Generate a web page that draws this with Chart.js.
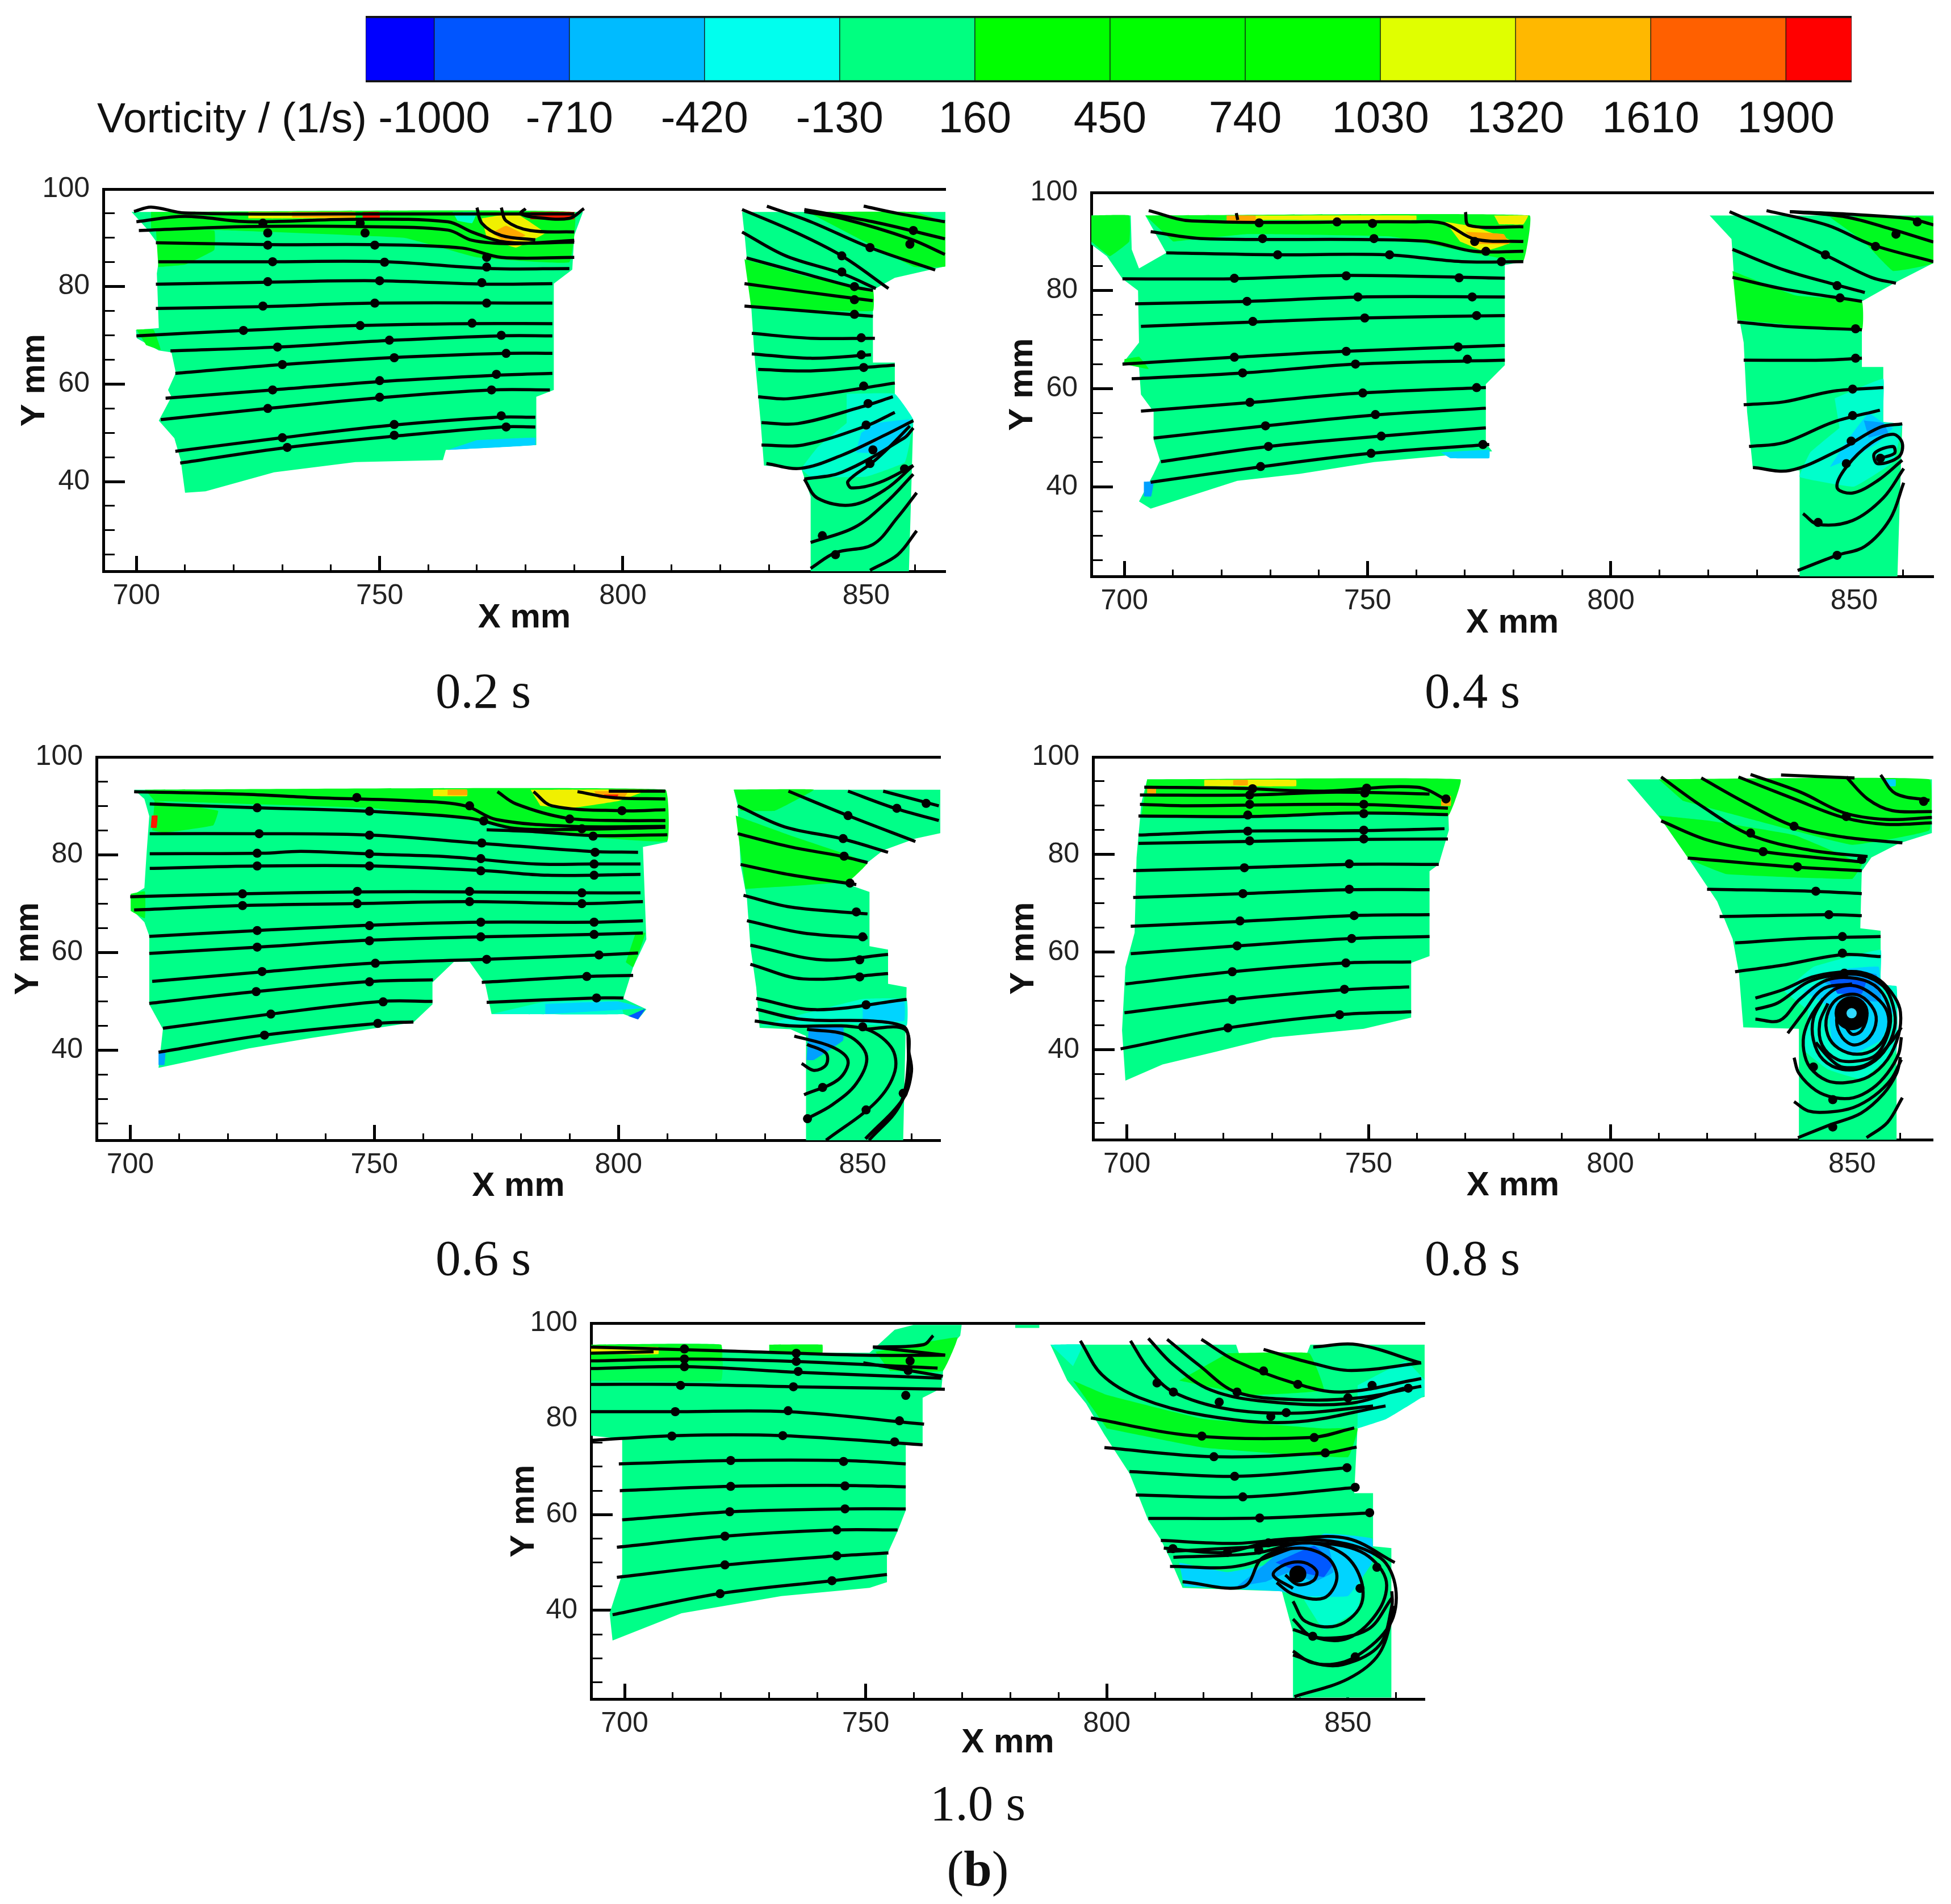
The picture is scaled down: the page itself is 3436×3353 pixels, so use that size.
<!DOCTYPE html>
<html><head><meta charset="utf-8">
<style>
html,body{margin:0;padding:0;background:#fff;width:3436px;height:3353px;overflow:hidden}
canvas{position:absolute}
.cap{position:absolute;transform:translate(-50%,-50%);font-family:"Liberation Serif",serif;font-size:89px;color:#111;white-space:nowrap}
.lab{position:absolute;transform:translateY(-50%);font-family:"Liberation Sans",sans-serif;font-size:75px;color:#111;white-space:nowrap}
</style>
<script src="https://cdn.jsdelivr.net/npm/chart.js@4/dist/chart.umd.min.js"></script>
</head><body>
<script>
// ---------- colour bar ----------
const levels=[-1000,-710,-420,-130,160,450,740,1030,1320,1610,1900];
const barEdges=[-1147,-1000,-710,-420,-130,160,450,740,1030,1320,1610,1900,2041];
const barColors=['#0000ff','#0055ff','#00bbff','#00ffee','#00ff80','#00ff00','#00ff00','#00ff00','#e0ff00','#ffb800','#ff6000','#ff0000'];
const C={base:'#00ff88',green:'#00fa20',green2:'#00ff55',cyan:'#00ffcc',sky:'#00d4ff',azure:'#00a0ff',blue:'#0058ff',yellow:'#f0f000',orange:'#ffa800',red:'#ff1800'};

// ---------- panel 1 : 0.2 s ----------
const p1Fields=[
[[699,95.3],[791.8,95.3],[790,90.5],[789.6,83.5],[785.8,80.6],[785.8,58.8],[782.2,57.4],[782.2,47.5],[763.6,46.5],[763,44.4],[745,44],[728.3,41.9],[714.2,38],[710,37.7],[709.1,44.4],[707.8,48.9],[704.6,52.5],[707.2,57.4],[706.5,58.8],[708.1,62.3],[707.2,66.5],[704.6,66.9],[700.1,69.4],[699.9,71.1],[704.6,71.5],[704.2,82.7],[705,88],[702.1,91.9]],
[[824.5,95.3],[866.5,95.3],[866.5,84.2],[855.9,81.8],[851.4,79.3],[851.4,64.4],[855.9,64.4],[855.9,53],[859.7,52.7],[858.8,21.6],[838.6,21.6],[838.6,36.9],[836.7,42.6],[829,43.3],[828.3,52.4],[827,66.5],[826.4,75.7],[825.1,89.8]]];
const p1Patches=[
['green',[[703,95.3],[790,95.3],[789,85],[770,86],[755,90],[720,91.5],[703,92]]],
['green',[[704,92],[716,91.5],[716,87.5],[710,84.5],[704.5,84]]],
['green',[[700,71.2],[703.5,71.2],[705,67],[702,68]]],
['green',[[825,85.6],[838,82],[851.4,79.3],[851.4,75],[826.4,75.5]]],
['green',[[838,95.3],[860,95.3],[866.5,93],[866.5,84.2],[860,84],[852,88]]],
['cyan',[[846,58],[855.9,58],[859.7,52.7],[858,44],[850,41],[838.6,41],[836.7,42.6],[840,47],[846,52]]],
['sky',[[852,52],[859,52.7],[858,49],[853,46],[848,46],[849,50]]],
['sky',[[764,46.5],[782,47.5],[782,49],[770,48.5]]],
['cyan',[[765,95.3],[770,95.3],[769,93],[766,93.5]]],
['yellow',[[771,94],[778,95],[784,91],[778,88],[772,90]]],
['orange',[[773,91],[776,92.5],[780,90.5],[776,89]]],
['yellow',[[723,94],[745,94],[745,95.3],[723,95.3]]],
['orange',[[732,94.2],[745,94.2],[745,95.3],[732,95.3]]],
['red',[[746.5,94],[750,94],[750,95.3],[746.5,95.3]]],
['red',[[781,93.8],[790,93.8],[790,95.3],[781,95.3]]]];
const p1Lines=[
[[699.5,95.4],[703,96.3],[710,95.1],[744,94.9],[769,94.9],[790,94.9]],
[[700,93.3],[710,94.4],[723,93.3],[744,93.8],[764,93.3],[769,91.2],[776,89.1],[790,89.1]],
[[700.5,91.5],[723,92.3],[746,92.3],[764,91.6],[769,89.5],[777,88.8],[790,89.5]],
[[704,89],[727,88.6],[749,88.6],[767,87.9],[775,86],[790,86]],
[[704.5,85.1],[727,85.1],[751,85.1],[773,83.7],[789,83.7]],
[[704,80.5],[727,80.9],[749,81.2],[772,80.5],[785.5,80.6]],
[[704,75.5],[726,75.9],[749,76.6],[785.5,76.6]],
[[700,69.9],[722,71],[745,72],[768,72.4],[785.5,72.4]],
[[707,66.8],[729,67.6],[753,69],[775,69.9],[785.5,69.9]],
[[708,62.2],[730,64],[752,65.4],[776,66.3],[785.5,66.3]],
[[706,57.1],[728,58.8],[751.5,60.6],[774,61.8],[785.5,62.2]],
[[705,52.7],[727,55],[750,57.2],[773,58.8],[785,58.8]],
[[708,46.2],[730,49],[752,51.5],[774,53.2],[782,53.2]],
[[709,43.8],[731,47],[754,49.4],[775,51.2],[782,51.2]],
[[770,96.2],[771,93],[775,90.5],[782,89.6]],
[[775,96.2],[776,93.5],[781,91.5],[790,91.2]],
[[780,96],[779,95],[782,94.2],[789,94],[792,96]],
[[824.5,95.8],[834.7,91.5],[845,86.3],[854.6,79.6]],
[[829.6,96.5],[838.6,93.3],[850.8,88],[864.2,83.4]],
[[837.3,95.8],[851.4,93.3],[866.2,89.8]],
[[849.5,96.5],[856.5,95],[866.2,93.3]],
[[837.3,95.4],[845,94],[859,89.8],[866.2,86.6]],
[[824.5,91.2],[833.5,86.3],[845,82.7],[852,79.6]],
[[825.4,85.9],[836,83],[847.6,79.9],[851.4,79.2]],
[[825,80.6],[837.5,78.9],[851.4,77.1]],
[[825,76],[837.5,75],[851.4,73.9]],
[[826.5,70.4],[838.6,69.4],[851.8,69.4]],
[[826.5,66.2],[838.6,65.3],[851,66]],
[[827.8,63],[838.6,62.7],[855.9,63.9]],
[[827.8,57.4],[834,57],[855.9,60.2]],
[[828.5,52.1],[836,51.9],[849,55.3],[855.5,57.4]],
[[828.5,47.5],[837,47.5],[850,51.4],[855.9,54.2]],
[[829.5,43.7],[836.5,42.7],[845,45.4],[854,49.6],[859.7,52.5]],
[[837.3,40.5],[845,41.9],[857.9,49],[859.7,51]],
[[859.7,43.3],[852.7,39.8],[847,38.7],[846.3,40.1],[851.4,44],[855.2,47.5],[859,51.4]],
[[837.3,40.5],[840,36.6],[847,35.2],[854,38.4],[859.7,43.3]],
[[838.6,27.5],[847.6,30.6],[854,35.6],[859.7,41.5]],
[[838.6,22.2],[843.7,25.4],[851.4,27.1],[856.5,32.7],[860.4,37.7]],
[[850.8,21.8],[856.5,25],[860.4,29.9]]];
const p1Arrows=[[726,93],[727,91],[746,93],[747,91],[749,88.5],[727,88.5],[728,85.1],[751,85],[727,81],[750,81.2],[771,80.8],[726,76],[749,76.6],[772,76.6],[722,71],[746,72],[769,72.5],[729,67.6],[752,69],[775,70],[730,64],[753,65.4],[776,66.3],[728,58.8],[750,60.7],[774,62],[727,55],[750,57.3],[773,58.8],[730,49],[753,51.7],[775,53.5],[731,47],[753,49.5],[776,51.2],[772,86],[772,84],[845,86.3],[850.8,88],[859.7,91.5],[859,88.7],[845,83],[847.6,80],[847.6,77.3],[847.6,74.3],[849,69.5],[849,66],[849.5,63.4],[849.5,59.6],[850.4,56],[850,51.6],[851.4,46.5],[850.8,43.7],[857.9,42.6],[841,28.9],[843.7,25]];

// ---------- panel 2 : 0.4 s ----------
const p2Fields=[
[[693.2,95.3],[701.3,95.3],[701.5,88.4],[703,84.5],[708.6,87.7],[704.3,95.3],[783.3,95.3],[782,85.9],[778.2,85.2],[778.2,64.8],[774.3,60.9],[774.3,48.9],[775.6,47.2],[751.3,45],[736,42.6],[723.2,41.2],[705.4,35.5],[703,37],[706,42.6],[707.3,45.4],[706,49.6],[706,55.3],[703.4,58.8],[703,64.4],[699.6,65.1],[703,69.4],[702.8,80],[699.6,82.4],[696.4,87],[693.2,89.4]],
[[820.3,95.3],[866.3,95.3],[866.3,85.6],[858.6,81.7],[851.6,77.8],[851.6,64.4],[856,64.4],[856,53.2],[859.9,52.8],[858.9,21.6],[838.8,21.6],[838.8,43.3],[829.2,43.6],[828,55.3],[827.3,69.4],[825.6,78.5],[824.8,90.5]]];
const p2Patches=[
['green',[[704.3,95.3],[783.3,95.3],[782,86],[770,88],[755,91],[725,91.5],[710,90]]],
['green',[[693.2,95.3],[701,95.3],[701,90],[697,87],[693.2,90]]],
['green',[[700,66],[703,66.5],[705,64],[700,65]]],
['green',[[825,84],[838,79],[851.6,77.8],[851.6,72],[826,74]]],
['green',[[845,95],[866.3,95],[866.3,85.6],[858,84],[852,90]]],
['cyan',[[846,58],[856,62],[856,53.2],[859.9,52.8],[858,45],[850,40],[838.8,42],[841,47],[847,52]]],
['sky',[[849,50],[853,55],[856,53],[858,52],[855,49],[850,46],[845,44]]],
['azure',[[852,53.5],[856,53],[857,51],[853,50]]],
['orange',[[721,94],[727,93.8],[727,95.3],[721,95.3]]],
['yellow',[[727,94.4],[760,94.4],[760,95.3],[727,95.3]]],
['yellow',[[766,94],[772,93],[780,90],[774,88],[769,90]]],
['orange',[[770,92],[778,91.5],[779,89.5],[773,89.5]]],
['yellow',[[776,95.3],[783,95.3],[782,93.5],[777,93.5]]],
['sky',[[765,47],[775,47.5],[775,45.8],[767,45.8]]],
['azure',[[704,41],[706,41],[705.5,38],[704,38]]]];
const p2Lines=[
[[705,96.3],[713.8,94.2],[759,94],[765.6,93.7],[772,90.5],[782,90]],
[[723,95.8],[723.3,94.4]],
[[770.1,96],[770.8,93.3],[782,93]],
[[705.4,92],[716.2,90.6],[761.6,90.1],[771.8,88],[782,88]],
[[708.6,87.7],[731,87.3],[754,87.3],[769.3,85.9],[782,85.9]],
[[699.6,82.4],[722,82.4],[746.2,83.1],[778.2,82.5]],
[[702.2,77.3],[725.8,77.8],[748.8,78.7],[778.2,78.7]],
[[703.4,72.7],[727,73.6],[748.8,74.4],[778.2,74.9]],
[[699.6,65],[722.6,66.4],[745,67.6],[778.2,68.8]],
[[701.5,62],[724.5,63.2],[747.5,65],[778.2,65.8]],
[[703.4,55.4],[726.4,57.2],[748.8,59.1],[774.3,60.2]],
[[706,49.9],[729,52.4],[751.3,54.6],[774.3,56]],
[[707.5,45.1],[729.6,48.2],[752.6,50.3],[774.3,52]],
[[705.4,40.9],[727.7,44],[750.7,46.8],[775,48.6]],
[[824.4,96.1],[835.6,91.2],[844.6,87],[853.5,82.7],[858.6,81.5]],
[[832,96.3],[844.6,93.3],[853.5,89.4],[866.3,85.9]],
[[836.8,96.1],[848.4,95],[857.4,92.6],[866.3,89.9]],
[[836.8,96.1],[848.4,95.6],[861.2,94.7],[866.3,93.4]],
[[825,88.4],[835.6,84.2],[845.8,81.3],[852.2,79.6]],
[[825,82.7],[835.6,80.3],[851.6,77.8]],
[[826,73.6],[835.6,72.7],[851.6,72]],
[[827.3,65.8],[843.3,65.8],[851.6,66.2]],
[[827.3,56.7],[835.6,57.3],[845.8,59.5],[856,60.2]],
[[828.4,48.2],[835.6,49],[845.8,53.2],[855.3,55.6]],
[[829.2,43.9],[836.8,43.3],[847,47.5],[855.3,52.1],[859.9,52.8]],
[[859.9,45.4],[854.8,41.2],[849.7,38.7],[846.5,39.8],[848.4,44],[853.5,48.9],[858,50.7],[859.9,48.9],[859.2,46.1],[854.8,44.7],[854.2,46.8],[858,48.2],[858.3,46.8],[855.4,45.8]],
[[839.5,34.5],[842.6,32.3],[849.7,33.1],[856,37.7],[860.2,43.7]],
[[838.4,22.9],[846.5,26],[852.2,27.8],[857.4,33.4],[860.2,40.8]]];
const p2Arrows=[[728.4,90.6],[751.3,90.6],[743.7,94],[727.7,93.8],[751,93.7],[772,90],[774.3,88],[777.5,85.9],[731.5,87.3],[754.5,87.3],[722.6,82.5],[745.6,83],[768.8,82.6],[725.2,77.8],[748,78.7],[771.5,78.7],[726.4,73.7],[749.4,74.4],[772.4,74.9],[722.6,66.4],[745.6,67.6],[768.6,68.5],[724.3,63.2],[747.5,65],[770.5,66],[725.8,57.2],[749,59.1],[772.4,60.2],[729,52.4],[751.6,54.7],[729.6,48.2],[752.8,50.3],[773.7,48.6],[728,44.1],[750.7,46.8],[844.1,87.3],[854.4,89],[858.6,91.5],[863,94],[846.5,81],[847.1,78.5],[850.3,72.2],[850.3,66.2],[849.7,59.9],[849.7,54.5],[849.4,49.3],[848.4,44.7],[842.6,32.7],[846.5,26],[855.4,45.8]];

// ---------- panel 3 : 0.6 s ----------
const p3Fields=[
[[700.8,93.3],[809.6,93.3],[810,82.6],[805,81.6],[805.7,62.7],[803,57],[801,50.6],[805.7,48.4],[804,46.3],[801,47.4],[774,47.4],[772.7,53.6],[769.5,58.1],[766.3,58.1],[761.9,53.9],[761.9,49.4],[758,45.7],[737,42.5],[724.3,40.4],[712.8,37.9],[705.8,36.4],[706.7,44.3],[703.9,49.4],[703.9,59.9],[703.9,63.4],[702.9,66.2],[700.1,69],[700.1,71.5],[702.9,73.2],[703.3,79.6],[703.9,87.9],[702.9,91.4]],
[[823.6,93.3],[865.9,93.3],[865.9,84.4],[860.8,83.3],[854.2,80.9],[851,78.4],[847.1,77.3],[847.1,73.9],[851.4,72.4],[851.4,61.3],[855.2,60.6],[855.2,53.6],[859,52.9],[858.3,21.6],[838.4,21.6],[838.4,42.9],[835.2,44.3],[828.9,44.6],[828.2,52.9],[827,61.3],[826.3,71],[825,78],[824.4,90]]];
const p3Patches=[
['green',[[703,93.3],[809.6,93.3],[810,82.8],[790,84],[770,87],[750,89.5],[720,90.5],[705,91]]],
['green',[[705,91],[718,89],[717,86],[707,84.5],[704.5,85]]],
['green',[[700.1,72],[703,72.5],[703,67],[700.1,68.5]]],
['green',[[803.5,64],[805.5,64],[803,57],[801.5,58]]],
['green',[[824,88],[835,84],[851,78.4],[847,74.5],[826,73]]],
['green',[[823.6,93.3],[840,93.3],[832,89],[825,89]]],
['cyan',[[829,45],[845,45.5],[859,45],[859,50.5],[850,50.5],[838,47.5]]],
['sky',[[850,46],[858.5,46],[858.5,50],[850,49.5]]],
['cyan',[[774,47.4],[801,47.4],[800,50],[785,50]]],
['sky',[[785,47.4],[805,48.6],[800,50],[785,49.5]]],
['blue',[[802,47],[805.5,48.5],[804,46.3]]],
['azure',[[839,45],[846,45],[846,42],[840,38],[838.5,38]]],
['azure',[[705.8,39.5],[707.2,39.5],[707,37],[705.8,37]]],
['red',[[704.2,85.5],[705.4,85.5],[705.6,88],[704.4,88]]],
['yellow',[[762,92],[769,92],[769,93.3],[762,93.3]]],
['orange',[[765,92.2],[769,92.2],[769,93.3],[765,93.3]]],
['yellow',[[782,93.3],[806,93.3],[800,91],[790,89.5],[784,90]]],
['orange',[[795,93],[802,93],[801,91.5],[796,91.5]]],
['red',[[797,92.3],[800,92.3],[799.5,91.6],[797.5,91.6]]]];
const p3Lines=[
[[700.8,92.9],[723,92.4],[737,91.7],[758,91],[768.6,90],[775,87.2],[790.6,85.8],[809.6,85.8]],
[[704,90.4],[726.1,89.6],[748.3,88.9],[769.3,87.5],[778.7,85.4],[791.6,85.2],[809.6,85.6]],
[[704,84.3],[726.7,84.3],[749.5,84],[772.4,82.3],[794,80.7],[804,80.5]],
[[773,85.1],[783,84.7],[795,83.9],[810,84.1]],
[[704,80.2],[727,80.3],[735,80.7],[750,80.1],[765,79.6],[783,78.1],[794.5,78.1],[804.5,78.1]],
[[704,77.2],[726,77.7],[750,77.7],[773,76.7],[785.5,75.8],[804.5,76]],
[[700,71.4],[723,72],[746,72.4],[769.5,72.4],[792.5,72.2],[804.5,72.2]],
[[700.8,68.7],[723,69.6],[746.4,70],[769.5,70.4],[792.5,70],[805,70.4]],
[[703.9,63.3],[726.1,64.5],[749.5,65.6],[771.8,66.2],[794.8,66.2],[805,66.5]],
[[703.9,59.8],[726.1,61.1],[748.7,62.5],[771.8,63.2],[794.8,63.7],[805,64]],
[[704.5,54.1],[726.7,56],[749.5,57.8],[772.4,58.6],[795.9,59.5],[804,59.9]],
[[703.9,49.6],[725.6,52],[749.5,54.1],[762,54.4]],
[[772,53.9],[793.6,55.1],[803,55.3]],
[[706.7,44.5],[728.7,47.4],[751.5,50],[761.9,50]],
[[773,49.8],[795.2,50.7],[801,50.7]],
[[705.8,39.6],[727.4,43.1],[750.8,45.5],[758,45.8]],
[[775.2,92.9],[779,90.4],[789.3,87.5],[800.7,87],[809.6,87]],
[[782.6,92.9],[786.4,90],[800.7,89],[809.6,89.2]],
[[791.6,92.9],[798.7,91.7],[809.6,91.4]],
[[798,93],[809.6,93]],
[[834.8,93],[847,88],[860.8,82.7]],
[[847,93],[856.6,89.5],[865.6,87]],
[[854.2,93],[865.6,90]],
[[824.4,90],[834,85.7],[845.6,83.3],[855.2,80.5]],
[[824.4,84.3],[835.2,81.6],[845.6,79.7],[851,78.4]],
[[825,78],[835.2,75.9],[848.7,73.9]],
[[825.6,71.7],[835.2,69.3],[851,67.9]],
[[826.3,66.5],[837.8,64],[851,63]],
[[827,61.5],[841.7,58.5],[855.2,59.6]],
[[827,57.6],[837.8,54.6],[855.2,55.7]],
[[828.2,50.6],[840.4,48.3],[859,50.4]],
[[828.2,48.4],[837.8,46.3],[851.9,46],[858.3,44.9],[859.3,42.9],[858.3,30.1],[850.6,21.9]],
[[827.9,46],[835.2,45],[850,44.5],[855.8,40.7],[856.6,35.7],[852.7,29.4],[842.5,21.6]],
[[838.6,44.3],[847,43],[850.8,38.8],[848.7,33.2],[843.7,28.8],[838.6,26]],
[[836,42.9],[843.7,40.7],[847,37.9],[845,34],[838,30.9]],
[[838.6,41.2],[842.5,39.4],[842.5,37],[840,35.9],[837.5,37.3]],
[[859.4,40],[860,35.7],[858.3,30.1],[850.6,21.9]],
[[850.3,44.3],[858.6,44.3],[859.4,38.8],[857.7,29],[851.3,21.6]]];
const p3Arrows=[[746.4,91.7],[726,89.6],[749,88.9],[769.5,90],[772.4,86.9],[790,87.3],[800.7,89],[792.5,85.3],[726.4,84.3],[749,84],[772,82.4],[794.8,83.8],[726,80.3],[749,80.2],[771.8,79.2],[795.2,80.5],[726,77.7],[749,77.7],[771.8,76.7],[795,78.1],[795,75.8],[723,72],[746.5,72.5],[769.5,72.5],[792.5,72.2],[723,69.6],[746.5,70],[769.5,70.4],[792.5,70],[726,64.5],[749,65.5],[771.8,66.2],[795,66.2],[726,61.1],[749,62.4],[771.8,63.2],[795,63.7],[727,56.1],[750.2,57.8],[773,58.6],[796,59.5],[725.8,52],[749,54],[793.5,55.1],[728.8,47.4],[751.8,49.9],[795.5,50.7],[727.5,43.1],[750.7,45.5],[847,88],[857,89.5],[863,90.5],[846,83.3],[846.2,79.7],[847.4,74.2],[848.7,68.3],[850,63.2],[849.4,58.5],[849.4,55],[850.7,49.3],[850,44.8],[841.8,32.4],[838.7,26],[850.7,27.8],[858.3,31.2]];

// ---------- panel 4 : 0.8 s ----------
const p4Fields=[
[[704.2,95.4],[769,95.4],[766.4,91.4],[766.6,85],[764.5,78],[762.6,76.6],[762.6,59.2],[758.8,57.8],[758.8,46.6],[749,44.3],[730.2,42.5],[718.7,39.7],[707.4,37],[699.7,33.7],[699,44],[699.7,57],[701.6,64],[702,79.4],[703,90.6]],
[[803.4,95.4],[866.5,95.4],[866.5,84.4],[859.7,82.3],[854,79.4],[852,76.6],[851.7,64.9],[855.9,64.4],[855.9,53.4],[859.2,53],[859.2,21.6],[839,21.6],[839,44.3],[827.5,44.6],[826.6,55.7],[825.3,62.7],[822.1,70.4],[816.3,79],[810.5,87.2]]];
const p4Patches=[
['green',[[704.2,95.4],[769,95.4],[766.5,88],[750,88.5],[720,88],[703,88]]],
['green',[[810,88],[820,87],[838,84],[852,78],[850,75],[824,76],[816.3,79]]],
['green',[[810,95.4],[866,95.4],[866,85],[850,82],[830,87],[815,91]]],
['cyan',[[836,52],[842,57],[855.9,60.5],[855.9,53.4],[859.2,53],[859.2,40],[852,34],[845,36],[840,40],[841,48]]],
['sky',[[840,52],[848,56.5],[855.5,57],[856,52],[858.5,48],[856,42],[850,39],[846,41],[845,49]]],
['azure',[[844,54],[849,56],[855,55.5],[856,50],[850,50]]],
['blue',[[845,54.5],[853,54.5],[852,51.5],[847,51.5]]],
['yellow',[[716,94],[735,94],[735,95.3],[716,95.3]]],
['orange',[[722,94.2],[725,94.2],[725,95.3],[722,95.3]]],
['orange',[[704.2,92.5],[706,92.5],[706,94],[704.2,94]]],
['orange',[[765,90],[767,90],[767,92],[765,92]]],
['sky',[[857,95.4],[859,95.4],[859,94],[857,94]]]];
const p4Lines=[
[[703.6,93.8],[722,93.6],[740,93],[760,93.8],[766.6,91]],
[[702.7,92.2],[725.4,92.2],[743.3,92.8],[762.6,92.4]],
[[702.7,90.3],[712.6,90],[747.4,90.3],[766.4,89.5]],
[[702.4,87.9],[725.4,87.8],[747.4,88.5],[766.4,88.2]],
[[702.4,84],[724,84.8],[747.4,84.9],[765.7,85.3]],
[[702.4,82.3],[725.4,82.7],[747.4,83.1],[766.4,83.2]],
[[701.3,76.7],[724,77.3],[746,78],[764.5,78]],
[[701.3,71.2],[724,72],[746,72.8],[762.6,72.8]],
[[700.8,65.3],[723.4,66.3],[746.5,67.5],[762.6,67.7]],
[[700.8,59.7],[722.8,61.3],[746.5,62.8],[762.6,63.2]],
[[699.7,53.5],[721.8,56],[745.3,57.8],[758.8,58]],
[[699.5,47.6],[721.8,50.3],[744.8,52.3],[758.4,52.9]],
[[698.7,40.2],[720.9,44.5],[744,47.2],[758.8,47.8]],
[[810.5,95.9],[818.8,90],[829,84],[841.3,80.9],[853.2,79.6]],
[[818.8,95.7],[827.8,90.7],[838,85.8],[848.2,83.6],[860.4,82.4]],
[[826.5,95.9],[838,91.4],[848.2,87.6],[857,86.2],[866.5,86.5]],
[[829,96.4],[839.3,92.8],[848.2,88.6],[857,87.2],[866.5,87.6]],
[[835.3,96.3],[850.5,95.7]],
[[848.8,95.9],[853.2,91.4],[858.3,89],[866.5,88.8]],
[[855.9,96.3],[859,92.5],[866,91.1]],
[[810.5,86.9],[820,83],[831.6,80.6],[852,78.5]],
[[816,79.3],[839,77.4],[852,76.7]],
[[820,72.9],[841.5,72.5],[852,72]],
[[822.6,67.3],[845.2,67.7],[852,67.5]],
[[825.8,61.9],[840,62.8],[855.9,63.2]],
[[825.8,56],[835.4,57.3],[848,59.5],[855.9,59.1]],
[[830,50.6],[835.9,52.4],[841.7,54.9],[847.2,55.9],[851.8,55.9],[855.7,54.3],[858.8,50.8],[860,47.7],[859.6,43],[857.3,38],[853.4,34.5],[848.7,33.3],[844.8,33.7],[841.3,36.4],[840,39.9],[840.2,43.8],[842.5,48.5],[846.4,52.4],[850.7,53.1],[854.9,50.8],[857.3,47.7],[857.3,43.8],[854.9,40.3],[851,39.1],[847.2,40.3],[845,43],[844.8,47],[847,50.5],[851,51.3],[854,49],[855,46],[853.5,42.5],[850.5,41],[848,42.5],[846.8,46],[848,49.5],[851,50.2],[853,47.5],[852,44],[850,43.2],[848.5,45]],
[[830,48.3],[834.6,49.6],[840.9,53.9],[846.8,55.3],[852,55.3],[856.5,53],[858.5,49],[858.8,44.5],[856.5,39.5],[852.5,36.5],[848,36],[844,38],[842,42],[842,46.5],[844,50.5]],
[[830,46.3],[835,46],[839.2,50.4],[844.8,54.3],[851,54.6],[855.5,52.5],[857.8,48],[857.5,43.5],[855,39],[851,37.7],[847,38],[843.8,41],[843.3,45.5],[845,49.5]],
[[836.7,43.4],[840,47.7],[844,52.5],[850,53.5]],
[[838,38.4],[839,35.2],[842.5,31.7],[846.4,30.2],[850.3,30.2],[854.2,32.1],[857.3,35.2],[859.6,39.1],[860.2,42.6]],
[[838,29.4],[840.9,27.5],[845.6,27.3],[850.3,28.2],[854.6,30.6],[858.1,34],[860.2,38]],
[[838.8,22],[845.6,24.7],[851.8,27],[856.5,31],[859.2,35.2],[860,38.5]],
[[853,22],[857.3,25.1],[860.4,30.2]],
[[842.5,41.5],[845.6,38],[848.3,36.4],[853.4,37.2],[858,41.5],[860.2,44.6]]];
const p4Arrows=[[726,93.5],[749.6,93.6],[725.4,92.2],[749.2,92.6],[766,91.4],[725.4,90.3],[749,90.3],[725,88.1],[749,88.4],[725,84.8],[749,85],[725.4,82.8],[749,83.2],[724.3,77.3],[746,78.1],[724,72],[746,72.9],[723.4,66.4],[747,67.5],[722.8,61.3],[746.5,62.8],[721.8,56],[745.3,57.8],[721.8,50.3],[745,52.4],[720.9,44.5],[744,47.2],[829,84.4],[838,85.8],[848.8,87.8],[864.8,90.9],[831.6,80.6],[852,79],[838.7,77.5],[842.5,72.5],[845.2,67.7],[848,63.2],[848,59.8],[848.4,55.7],[846,29.8],[846,24.2],[842,36.5]];
const p4Core=[[849.9,47.5]];

// ---------- panel 5 : 1.0 s ----------
const p5Fields=[
[[693,95.5],[719.6,95.5],[720,94.2],[730,94.2],[730,95.5],[741,95.5],[741,93.8],[750.8,93.8],[756,98.6],[759.9,99.6],[769.9,99.6],[769.6,97.4],[766.4,93.7],[765.7,86.4],[761.8,84.4],[761.8,75],[758.3,74.6],[758.3,60.9],[756.6,56.5],[754.4,51.6],[754.4,45.9],[750.8,44.7],[732.5,43],[711.8,39.4],[697.5,33.7],[696.9,39.4],[699.5,47.6],[699.5,75.8],[693,76.5]],
[[788.3,95.5],[826.8,95.5],[827.4,93.7],[841.5,93.7],[842.2,95.5],[866.5,95.5],[866.2,84.7],[859,82.7],[852,78.6],[851.3,64.5],[855.2,64.5],[855.2,53.4],[859,53],[859,21.8],[838.6,21.8],[838.6,35.4],[836.3,44],[815.7,44.7],[813.1,50.8],[811.2,54.8],[808.6,58.8],[804.7,68.6],[799.5,76.7],[795.7,83.2],[791.8,88]],
[[781,99.6],[786,99.6],[786,99],[781,99]]];
const p5Patches=[
['green2',[[693,95.5],[720,95.5],[720,88],[693,88]]],
['green',[[693,95.5],[720,95.5],[720,92],[693,92]]],
['green',[[730,95.5],[741,95.5],[741,93.8],[730,93.8]]],
['green',[[752,94],[769,97],[766,90],[755,90]]],
['green',[[793,88],[800,85],[820,80],[845,78],[852,78],[850,72],[820,74],[800,78]]],
['green',[[825,93.7],[842,93.7],[845,86],[830,85],[815,88]]],
['cyan',[[788.3,95.5],[795,95.5],[793,91]]],
['cyan',[[852,87],[862,92],[866,88],[866,85],[858,80],[852,78]]],
['cyan',[[840,47],[846,44],[853,47],[852,40],[845,36],[841,42]]],
['sky',[[815,50],[825,48],[835,50],[845,56],[855,55],[855,50],[850,43],[840,43],[836,44],[816,45]]],
['azure',[[827,45],[832,49],[838,54],[846,53],[847,48],[843,46],[838,48],[833,46]]],
['blue',[[835,50],[843,53.5],[847,50],[845,47],[840,48]]],
['yellow',[[693,95],[707,95],[707,93.5],[693,93.5]]]];
const p5Lines=[
[[693,95],[720.9,94.2],[749.5,93.3],[766.4,93.3]],
[[693,93.7],[706,94]],
[[693,92.1],[713,92.5],[735,92],[764.9,90.6]],
[[693,90.5],[713,90.9],[736.3,89.7],[765.7,88.5]],
[[693,87.2],[711.8,87.2],[735.2,86.7],[766.4,86.2]],
[[693,81.5],[710.5,81.5],[733.9,81.5],[762.1,78.9]],
[[693,75.5],[710.5,76.5],[732.6,76.5],[761.8,74.6]],
[[698.8,70.6],[722,71.3],[745.4,71.3],[758.3,70.6]],
[[699,65],[722,65.9],[745.4,66.1],[758.3,65.8]],
[[699.5,58.9],[722,60.6],[745.4,61.2],[758.3,61.2]],
[[698.4,53.2],[720.8,55.5],[743.6,56.8],[756.6,56.8]],
[[698.4,46.9],[720.8,49.5],[744.2,51.4],[754.7,52]],
[[697.5,39.1],[719.6,43.5],[743,46.2],[754.4,47.5]],
[[751.5,95],[762,95.5],[764,97.4]],
[[751.5,95],[766.5,93.3]],
[[749.5,91.7],[766,88.9]],
[[794.5,96.3],[799,89.2],[806.8,84.4],[820.3,80.7],[838.4,79.3],[857.8,82.7]],
[[804.9,96.3],[808.6,90.5],[813.8,85.6],[825.4,82],[839.6,81.2],[855.2,82.7]],
[[808.6,96.8],[813.8,91.3],[821.6,86],[833.2,83.6],[850,83.2],[861.6,86.4]],
[[812.5,96.6],[819,91.3],[826.8,85.6],[839.6,84],[852.4,84.4],[865.2,86.8]],
[[819.6,96.6],[826.8,92.1],[838.4,87.6],[848.7,85.6],[865.2,88.4]],
[[832.5,94.5],[842.3,91.7],[850.7,90.1],[865.2,91.7]],
[[842.8,95],[852,95.5],[865,91.7]],
[[796.7,80.2],[817.7,76.5],[842.3,76.1],[851.3,78.1]],
[[799.5,74],[822.2,72.1],[845.3,72.9],[851.8,74.1]],
[[804.7,69],[826.8,68],[850,69.8]],
[[806,64.1],[828.7,63.7],[851.8,65.7]],
[[808.6,59.2],[832.1,59.3],[855.2,60.4]],
[[811.2,54.6],[826.8,54],[838.4,55],[850,55],[859.7,50]],
[[811.8,53],[824.2,52.1],[833.3,54.1],[846.3,54.5],[856.7,51],[859.9,44.6],[858.6,36.9],[851.5,30.3],[845,28.7],[838.6,30.7]],
[[838.6,38.2],[842.5,34.6],[850,34.2],[856.5,40.2],[857.8,46.7],[852.6,52.3],[842.5,54.1],[829.3,53.2],[812.5,52.3]],
[[838.6,41.9],[841.2,37.7],[847.7,36.8],[852.6,40.9],[852.6,46.7],[848.8,51.9],[841.2,54.1],[830.6,51.9],[813.8,51.1]],
[[835.2,45.8],[838.6,43.4],[845,42.6],[847.7,46.7],[845.8,51],[840,53],[832.3,51],[828.4,45],[815.7,46]],
[[837,47.4],[839.6,45.4],[842.8,46.2],[843.5,48.2],[840.9,50],[837,49.6],[834.5,47.4],[838.6,44.6]],
[[838.6,31.5],[842.5,29.1],[849,28.7],[856.5,32.7],[859.1,40.9],[859.1,44]],
[[838.9,22],[850,25.7],[856.5,31],[859.7,40.9]],
[[838.6,36],[845,34.2],[854.1,36],[859.1,42.6]],
[[813.1,49.2],[826.8,49.2],[838.4,53]]];
const p5Arrows=[[712.4,94.6],[735.6,93.7],[712.4,92.5],[735.6,92],[759.2,92.1],[712.4,90.9],[736,89.9],[758.8,90.1],[711.6,87],[735,86.7],[758.3,84.9],[710.5,81.5],[733.9,81.7],[757,79.6],[709.8,76.4],[732.8,76.5],[756,75.2],[722,71.3],[745.4,71.1],[722,65.9],[745.7,66],[721.8,60.6],[745.7,61.2],[720.8,55.5],[744,56.8],[720.8,49.5],[744,51.4],[719.8,43.5],[743,46.2],[813.8,85.6],[810.4,87.5],[827,85.6],[832.5,90],[839.6,87.2],[823.3,83.5],[837.2,81.3],[834,80.5],[819.7,76.4],[843,76.1],[822.2,72.1],[845.3,72.9],[826.5,68],[849.8,69.8],[828.2,63.7],[851.5,65.7],[831.7,59.3],[854.5,60.4],[855,87],[850,84.4],[862.5,86.4],[852.5,44.6],[856,49],[842.7,34.6],[851.5,30.3],[833.5,54.1],[831.5,52.6],[825,52.1],[813.7,52.9]];
const p5Core=[[839.6,47.6]];

// ---------- page layout ----------
const panels=[
 {fields:p1Fields,patches:p1Patches,lines:p1Lines,arrows:p1Arrows,core:[],box:{l:182,r:1665,t:333,b:1006,title:60,h:118},xr:[693.2,866.3],ymin:21.6},
 {fields:p2Fields,patches:p2Patches,lines:p2Lines,arrows:p2Arrows,core:[],box:{l:1922,r:3405,t:339,b:1015,title:1800,h:118},xr:[693.2,866.3],ymin:21.7},
 {fields:p3Fields,patches:p3Patches,lines:p3Lines,arrows:p3Arrows,core:[],box:{l:170,r:1656,t:1333,b:2008,title:49,h:117},xr:[693.1,865.9],ymin:21.6},
 {fields:p4Fields,patches:p4Patches,lines:p4Lines,arrows:p4Arrows,core:p4Core,coreR:30,hole:9,box:{l:1925,r:3414,t:1333,b:2007,title:1802,h:117},xr:[693,866.7],ymin:21.6},
 {fields:p5Fields,patches:p5Patches,lines:p5Lines,arrows:p5Arrows,core:p5Core,coreR:15,hole:0,box:{l:1041,r:2509,t:2330,b:2992,title:922,h:113},xr:[693.05,865.9],ymin:21.5}];
const captions=[['0.2 s',851,1216],['0.4 s',2593,1216],['0.6 s',851,2215],['0.8 s',2593,2215],['1.0 s',1722,3175]];

function addCanvas(left,top,w,h){
  const c=document.createElement('canvas');
  c.width=w;c.height=h;c.style.left=left+'px';c.style.top=top+'px';c.style.width=w+'px';c.style.height=h+'px';
  document.body.appendChild(c);return c;
}
const toXY=a=>a.map(p=>({x:p[0],y:p[1]}));
const SANS='"Liberation Sans",Arial,sans-serif';

panels.forEach(P=>{
  const b=P.box,left=b.title-35,top=b.t-110,right=b.r+20,bottom=b.b+b.h;
  const ds=[];
  P.fields.forEach(f=>ds.push({type:'scatter',showLine:true,data:toXY(f),pointRadius:0,borderWidth:0,backgroundColor:C.base,fill:'shape',order:200}));
  P.patches.forEach((p,i)=>ds.push({type:'scatter',showLine:true,data:toXY(p[1]),pointRadius:0,borderWidth:0,backgroundColor:C[p[0]],fill:'shape',tension:0.08,order:100-i}));
  P.lines.forEach(l=>ds.push({type:'scatter',showLine:true,data:toXY(l),pointRadius:0,borderWidth:5.5,borderColor:'#000',backgroundColor:'#000',fill:false,tension:0.35,order:10}));
  ds.push({type:'scatter',data:toXY(P.arrows),pointStyle:'circle',pointRadius:8,pointBackgroundColor:'#000',pointBorderWidth:0,showLine:false,order:2});
  if(P.core.length){
    ds.push({type:'scatter',data:toXY(P.core),pointRadius:P.coreR,pointBackgroundColor:'#000',pointBorderWidth:0,showLine:false,order:1});
    if(P.hole)ds.push({type:'scatter',data:toXY(P.core),pointRadius:P.hole,pointBackgroundColor:'#30d8ff',pointBorderWidth:0,showLine:false,order:0});
  }
  const tickFont={family:SANS,size:50},titleFont={family:SANS,size:60,weight:'bold',lineHeight:1.2};
  new Chart(addCanvas(left,top,right-left,bottom-top),{
    type:'scatter',data:{datasets:ds},
    options:{responsive:false,animation:false,devicePixelRatio:1,
      layout:{padding:{top:b.t-top,right:right-b.r,left:0,bottom:0}},
      plugins:{legend:{display:false},tooltip:{enabled:false}},
      scales:{
        x:{type:'linear',position:'bottom',weight:1,min:P.xr[0],max:P.xr[1],
           border:{color:'#000',width:5},
           grid:{drawOnChartArea:false,tickLength:-27,tickWidth:5,tickColor:'#000'},
           ticks:{stepSize:50,includeBounds:false,autoSkip:false,maxRotation:0,font:tickFont,color:'#222',padding:27+14,callback:v=>String(v)},
           title:{display:true,text:'X mm',font:titleFont,color:'#111',padding:0},
           afterFit:s=>{s.height=b.h;}},
        x2:{type:'linear',axis:'x',position:'bottom',weight:0,min:P.xr[0],max:P.xr[1],
           border:{display:false},
           grid:{drawOnChartArea:false,tickLength:-12,tickWidth:3,tickColor:'#000'},
           ticks:{stepSize:10,includeBounds:false,autoSkip:false,display:false},
           afterFit:s=>{s.height=0;}},
        x3:{type:'linear',axis:'x',position:'top',min:P.xr[0],max:P.xr[1],
           border:{color:'#000',width:5},
           grid:{display:false,drawTicks:false},ticks:{display:false},
           afterFit:s=>{s.height=0;}},
        y:{type:'linear',position:'left',weight:1,min:P.ymin,max:100,
           border:{color:'#000',width:5},
           grid:{drawOnChartArea:false,tickLength:-38,tickWidth:5,tickColor:'#000'},
           ticks:{stepSize:20,includeBounds:false,autoSkip:false,font:tickFont,color:'#222',padding:38+24,callback:v=>String(v)},
           title:{display:true,text:'Y mm',font:titleFont,color:'#111',padding:0},
           afterFit:s=>{s.width=b.l-left;}},
        y2:{type:'linear',axis:'y',position:'left',weight:0,min:P.ymin,max:100,
           border:{display:false},
           grid:{drawOnChartArea:false,tickLength:-20,tickWidth:3,tickColor:'#000'},
           ticks:{stepSize:5,includeBounds:false,autoSkip:false,display:false},
           afterFit:s=>{s.width=0;}}
      }}
  });
});

// colour bar
new Chart(addCanvas(0,0,3436,300),{
  type:'bar',
  data:{labels:['v'],datasets:[{
    data:barColors.map((c,i)=>({x:[barEdges[i],barEdges[i+1]],y:'v'})),
    backgroundColor:barColors,borderColor:'#141414',
    borderWidth:{top:4,bottom:4,left:1,right:1},borderSkipped:false,barThickness:117
  }]},
  options:{indexAxis:'y',responsive:false,animation:false,devicePixelRatio:1,
    layout:{padding:{left:644,right:175,top:28,bottom:0}},
    plugins:{legend:{display:false},tooltip:{enabled:false}},
    scales:{
      x:{type:'linear',min:barEdges[0],max:barEdges[barEdges.length-1],
         afterBuildTicks:s=>{s.ticks=levels.map(v=>({value:v}));},
         border:{display:false},grid:{display:false},
         ticks:{autoSkip:false,maxRotation:0,font:{family:SANS,size:77},color:'#111',padding:13,callback:v=>String(v)},
         afterFit:s=>{s.height=155;}},
      y:{type:'category',display:false}
    }}
});

// text labels
const lab=document.createElement('div');lab.className='lab';lab.textContent='Vorticity / (1/s)';lab.style.left='171px';lab.style.top='207px';document.body.appendChild(lab);
captions.forEach(c=>{const d=document.createElement('div');d.className='cap';d.textContent=c[0];d.style.left=c[1]+'px';d.style.top=c[2]+'px';document.body.appendChild(d);});
const bl=document.createElement('div');bl.className='cap';bl.innerHTML='(<b>b</b>)';bl.style.left='1722px';bl.style.top='3291px';document.body.appendChild(bl);
</script>
</body></html>
